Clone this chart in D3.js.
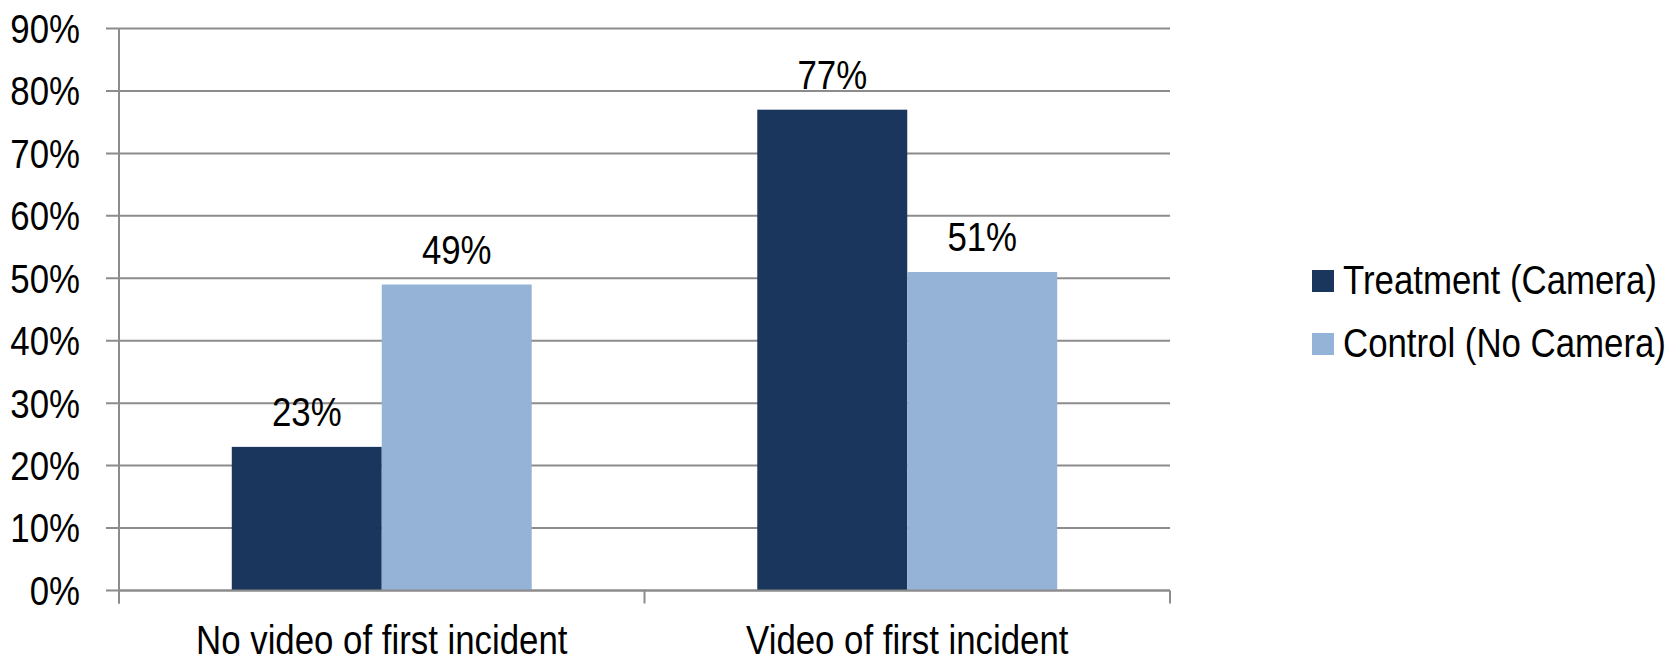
<!DOCTYPE html>
<html>
<head>
<meta charset="utf-8">
<script src="https://cdn.jsdelivr.net/npm/d3@7"></script>
<style>
body { margin: 0; background: #fff; }
text { font-family: "Liberation Sans", Arial, sans-serif; font-size: 40px; fill: #000; }
</style>
</head>
<body>
<svg id="chart"></svg>
<script>
// data
var categories = ["No video of first incident", "Video of first incident"];
var seriesNames = ["Treatment (Camera)", "Control (No Camera)"];
var treatment = [23, 77];
var control = [49, 51];
var yTicks = [0, 10, 20, 30, 40, 50, 60, 70, 80, 90];

var colors = ["#1b365d", "#95b3d7"];
var gridColor = "#8c8c8c";
var narrow = 0.87; // squeeze Liberation Sans to look like a narrow face

var screen = {width: 1679, height: 661};
var margins = {left: 119, right: 509, top: 28.5, bottom: 70.5};
var graph = {
    width: screen.width - margins.left - margins.right,
    height: screen.height - margins.top - margins.bottom
};

var svg = d3.select("#chart")
    .attr("width", screen.width)
    .attr("height", screen.height);

// place a squeezed text at x,y
var squeezed = function(sel, x, y) {
    return sel.attr("x", 0).attr("y", 0)
        .attr("transform", function(d, i) {
            return "translate(" + x(d, i) + "," + y(d, i) + ") scale(" + narrow + ",1)";
        });
};

var rows = categories.map(function(c, i) {
    return {cat: c, values: [treatment[i], control[i]]};
});

var xScale = d3.scaleBand()
    .domain(categories)
    .range([0, graph.width])
    .padding(0);

var x1 = d3.scaleBand()
    .domain(seriesNames)
    .range([0, xScale.bandwidth()])
    .paddingInner(0)
    .paddingOuter(0.752);

var yScale = d3.scaleLinear()
    .domain([0, 90])
    .range([graph.height, 0]);

var target = svg.append("g")
    .attr("transform", "translate(" + margins.left + "," + margins.top + ")");

// gridlines
target.append("g")
    .selectAll("line")
    .data(yTicks)
    .enter()
    .append("line")
    .attr("x1", -13)
    .attr("x2", graph.width)
    .attr("y1", function(d) { return yScale(d); })
    .attr("y2", function(d) { return yScale(d); })
    .attr("stroke", gridColor)
    .attr("stroke-width", 2);

// y tick labels
squeezed(target.append("g")
    .selectAll("text")
    .data(yTicks)
    .enter()
    .append("text")
    .attr("text-anchor", "end")
    .attr("dy", "0.36em")
    .text(function(d) { return d + "%"; }),
    function() { return -39; },
    function(d) { return yScale(d); });

// bars
var groups = target.append("g")
    .selectAll("g")
    .data(rows)
    .enter()
    .append("g")
    .attr("transform", function(d) { return "translate(" + xScale(d.cat) + ",0)"; });

groups.selectAll("rect")
    .data(function(d) { return d.values.map(function(v, i) { return {name: seriesNames[i], value: v, i: i}; }); })
    .enter()
    .append("rect")
    .attr("x", function(d) { return x1(d.name); })
    .attr("y", function(d) { return yScale(d.value); })
    .attr("width", x1.bandwidth())
    .attr("height", function(d) { return graph.height - yScale(d.value); })
    .attr("fill", function(d) { return colors[d.i]; });

squeezed(groups.selectAll("text.val")
    .data(function(d) { return d.values.map(function(v, i) { return {name: seriesNames[i], value: v}; }); })
    .enter()
    .append("text")
    .attr("class", "val")
    .attr("text-anchor", "middle")
    .text(function(d) { return d.value + "%"; }),
    function(d) { return x1(d.name) + x1.bandwidth() / 2; },
    function(d) { return yScale(d.value) - 21; });

// axis lines
var axisG = target.append("g");
axisG.append("line")
    .attr("x1", 0).attr("x2", 0)
    .attr("y1", 0).attr("y2", graph.height + 13)
    .attr("stroke", gridColor).attr("stroke-width", 2);
axisG.append("line")
    .attr("x1", 0).attr("x2", graph.width)
    .attr("y1", graph.height).attr("y2", graph.height)
    .attr("stroke", gridColor).attr("stroke-width", 2);
axisG.selectAll("line.tick")
    .data(categories.concat(["end"]))
    .enter()
    .append("line")
    .attr("class", "tick")
    .attr("x1", function(d, i) { return i * xScale.step(); })
    .attr("x2", function(d, i) { return i * xScale.step(); })
    .attr("y1", graph.height)
    .attr("y2", graph.height + 13)
    .attr("stroke", gridColor).attr("stroke-width", 2);

// category labels
squeezed(target.append("g")
    .selectAll("text")
    .data(categories)
    .enter()
    .append("text")
    .attr("text-anchor", "middle")
    .text(function(d) { return d; }),
    function(d) { return xScale(d) + xScale.bandwidth() / 2; },
    function() { return graph.height + 63; });

// legend
var legend = svg.append("g")
    .attr("transform", "translate(1312,270)");
var entries = legend.selectAll("g")
    .data(seriesNames)
    .enter()
    .append("g")
    .attr("transform", function(d, i) { return "translate(0," + i * 63 + ")"; });
entries.append("rect")
    .attr("width", 22)
    .attr("height", 22)
    .attr("fill", function(d, i) { return colors[i]; });
squeezed(entries.append("text")
    .attr("dy", "0.36em")
    .text(function(d) { return d; }),
    function() { return 31; },
    function() { return 10; });
</script>
</body>
</html>
